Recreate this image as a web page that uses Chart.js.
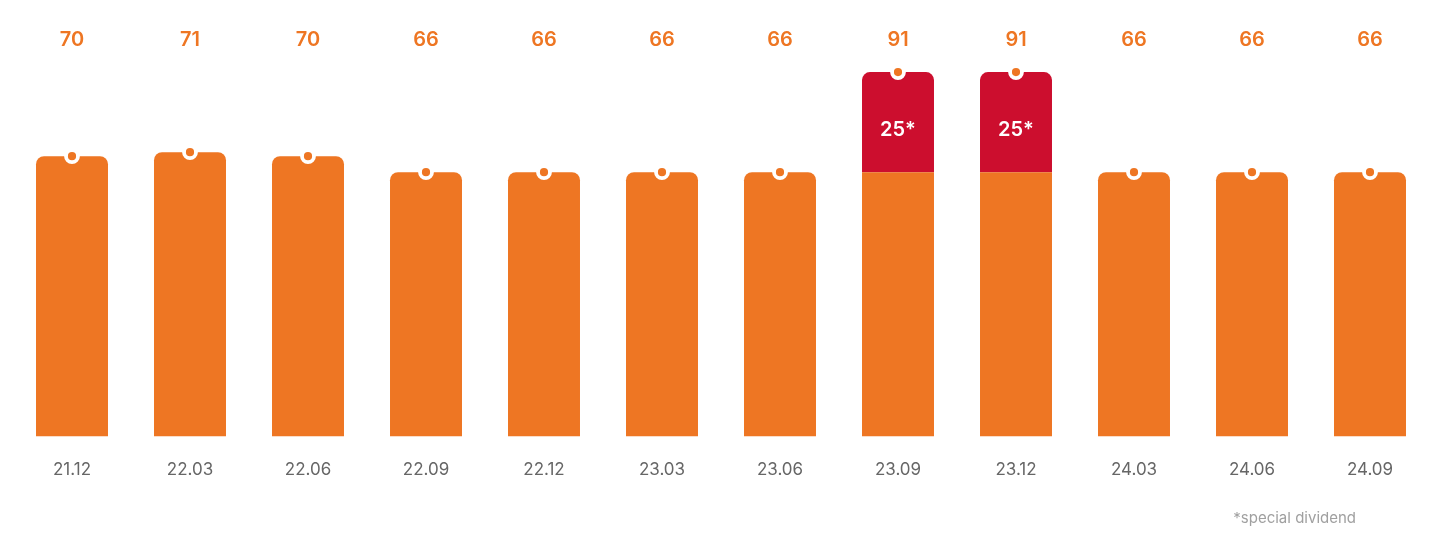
<!DOCTYPE html>
<html>
<head>
<meta charset="utf-8">
<script src="https://cdn.jsdelivr.net/npm/chart.js@4"></script>
<style>
  html, body { margin: 0; padding: 0; background: #fff; }
  #wrap { width: 1440px; height: 535px; position: relative; }
</style>
</head>
<body>
<div id="wrap"><canvas id="divChart"></canvas></div>
<script>
const labels = ["21.12", "22.03", "22.06", "22.09", "22.12", "23.03", "23.06", "23.09", "23.12", "24.03", "24.06", "24.09"];
const regular = [70, 71, 70, 66, 66, 66, 66, 66, 66, 66, 66, 66];
const special = [null, null, null, null, null, null, null, 25, 25, null, null, null];
const totals = regular.map((v, i) => v + (special[i] || 0));

const orange = "#EE7623";
const red = "#CC0E2E";

const topLabels = {
    id: "topLabels",
    afterDatasetsDraw(chart) {
        const c = chart.ctx;
        const x = chart.scales.x;
        c.save();
        c.textAlign = "center";
        c.textBaseline = "middle";
        c.fillStyle = orange;
        c.font = "600 20px Inter";
        totals.forEach((t, i) => {
            c.fillText(String(t), x.getPixelForValue(i), 40);
        });
        // special dividend labels inside the red segment
        const meta = chart.getDatasetMeta(1);
        c.fillStyle = "#fff";
        meta.data.forEach((bar, i) => {
            if (special[i] == null) return;
            c.fillText(special[i] + "*", bar.x, (bar.y + bar.base) / 2 + 8);
        });
        c.font = "15px Inter";
        c.fillStyle = "#a0a0a0";
        c.textAlign = "right";
        c.fillText("*special dividend", 1356, 518);
        c.restore();
    }
};

new Chart(document.getElementById("divChart"), {
    type: "bar",
    data: {
        labels: labels,
        datasets: [
            {
                label: "Dividend",
                data: regular,
                backgroundColor: orange,
                borderRadius: (ctx) => special[ctx.dataIndex] == null ? { topLeft: 8, topRight: 8 } : 0,
                borderSkipped: "start",
                stack: "div",
                order: 2
            },
            {
                label: "Special",
                data: special,
                backgroundColor: red,
                borderRadius: { topLeft: 8, topRight: 8 },
                borderSkipped: "start",
                stack: "div",
                order: 2
            },
            {
                type: "line",
                label: "Total",
                data: totals,
                showLine: false,
                pointRadius: 6,
                pointBackgroundColor: orange,
                pointBorderColor: "#fff",
                pointBorderWidth: 3.8,
                stack: "dots",
                order: 1
            }
        ]
    },
    options: {
        responsive: true,
        maintainAspectRatio: false,
        animation: false,
        barPercentage: 0.61,
        categoryPercentage: 1,
        layout: { padding: { left: 13, right: 11, top: 36, bottom: 40 } },
        plugins: {
            legend: { display: false },
            tooltip: { enabled: false }
        },
        scales: {
            x: {
                stacked: true,
                grid: { display: false },
                border: { display: false },
                ticks: { color: "#666", font: { family: "Inter", size: 17 }, padding: 15 }
            },
            y: {
                stacked: true,
                display: false,
                min: 0,
                max: 100
            }
        }
    },
    plugins: [topLabels]
});
</script>
</body>
</html>
